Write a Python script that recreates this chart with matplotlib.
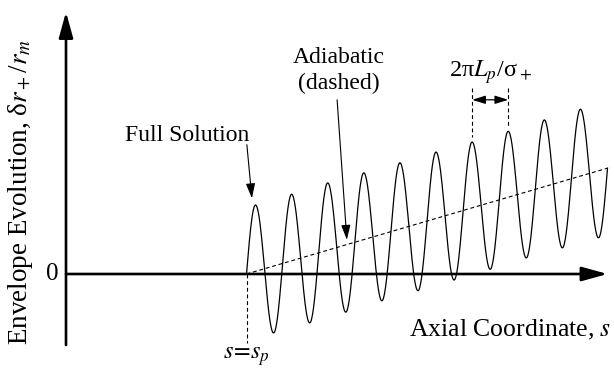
import numpy as np
import matplotlib
matplotlib.use("Agg")
import matplotlib.pyplot as plt

plt.rcParams['font.family'] = ['Liberation Serif', 'DejaVu Serif']
plt.rcParams['mathtext.fontset'] = 'stix'

# ---- data ----
s_p = 5.0
s_end = 15.0
adiabatic_s = [5.0, 15.0]
adiabatic_y = [0.0, 1.58]
peak_s = [5.25, 6.25, 7.25, 8.25, 9.25, 10.25, 11.25, 12.25, 13.25, 14.25]
peak_y = [1.03, 1.19, 1.36, 1.51, 1.66, 1.82, 1.97, 2.13, 2.30, 2.46]
trough_s = [5.75, 6.75, 7.75, 8.75, 9.75, 10.75, 11.75, 12.75, 13.75, 14.75]
trough_y = [-0.88, -0.73, -0.57, -0.40, -0.25, -0.09, 0.07, 0.24, 0.39, 0.54]
period_marks = [11.25, 12.25]
x_axis_end = 15.0
y_axis_range = [-1.06, 3.91]

# ---- build full-solution curve through extrema (sinusoidal segments) ----
ext_s = [s_p]
ext_y = [adiabatic_y[0]]
for ps, py, ts, ty in zip(peak_s, peak_y, trough_s, trough_y):
    ext_s += [ps, ts]
    ext_y += [py, ty]
ext_s.append(s_end)
ext_y.append(adiabatic_y[1])

xs, ys = [], []
n = len(ext_s)
for i in range(n - 1):
    t = np.linspace(0, 1, 40)
    s0, s1 = ext_s[i], ext_s[i + 1]
    y0, y1 = ext_y[i], ext_y[i + 1]
    if i == 0:
        shape = np.sin(np.pi / 2 * t)
    elif i == n - 2:
        shape = 1 - np.cos(np.pi / 2 * t)
    else:
        shape = (1 - np.cos(np.pi * t)) / 2
    xs.append(s0 + (s1 - s0) * t)
    ys.append(y0 + (y1 - y0) * shape)
xs = np.concatenate(xs)
ys = np.concatenate(ys)

# ---- figure ----
fig = plt.figure(figsize=(6.14, 3.81), dpi=100)
ax = fig.add_axes([0, 0, 1, 1])
ax.set_xlim(-66 / 36.1, 548 / 36.1)
ax.set_ylim(-107 / 67, 274 / 67)
ax.axis('off')

# axes with arrows
axis_arrow = dict(arrowstyle='-|>,head_length=1.3,head_width=0.36',
                  mutation_scale=12, lw=1.9, color='black',
                  shrinkA=0, shrinkB=0)
ax.annotate('', xy=(x_axis_end, 0), xytext=(0, 0), arrowprops=axis_arrow)
ax.annotate('', xy=(0, y_axis_range[1]), xytext=(0, y_axis_range[0]),
            arrowprops=axis_arrow)

# curves
ax.plot(xs, ys, color='black', lw=0.9)
ax.plot(adiabatic_s, adiabatic_y, color='black', lw=0.8,
        linestyle=(0, (3.5, 2.5)))

# s = s_p marker
ax.plot([s_p, s_p], [0, -1.03], color='black', lw=0.8,
        linestyle=(0, (3.5, 2.5)))
ax.text(s_p, -1.23, r'$s\!=\!s_p$', ha='center', va='center', fontsize=17.5)

# period markers
for s in period_marks:
    idx = peak_s.index(s)
    ax.plot([s, s], [2.78, peak_y[idx] + 0.07], color='black', lw=0.8,
            linestyle=(0, (3.5, 2.5)))
ax.annotate('', xy=(period_marks[1], 2.60), xytext=(period_marks[0], 2.60),
            arrowprops=dict(arrowstyle='<|-|>,head_length=0.8,head_width=0.25',
                            mutation_scale=10, lw=0.9, color='black',
                            shrinkA=0, shrinkB=0))
ax.text(11.75, 3.02, '2π$L_p$/σ$_+$', ha='center', va='center',
        fontsize=17.5)

# labels
ax.text(-0.39, 0.0, '0', ha='center', va='center', fontsize=18)
ax.text(-1.27, 1.22, 'Envelope Evolution, δ$r_+$/$r_m$', rotation=90,
        ha='center', va='center', fontsize=19.5)
ax.text(15.12, -0.84, r'Axial Coordinate, $s$', ha='right', va='center',
        fontsize=18.5)

# annotations
small_arrow = dict(arrowstyle='-|>,head_length=0.9,head_width=0.28',
                   mutation_scale=10, lw=0.8, color='black',
                   shrinkA=0, shrinkB=0)
ax.text(3.35, 2.06, 'Full Solution', ha='center', va='center', fontsize=17)
ax.annotate('', xy=(5.15, 1.13), xytext=(5.01, 1.93), arrowprops=small_arrow)
ax.text(7.56, 3.03, 'Adiabatic\n(dashed)', ha='center', va='center',
        fontsize=17, linespacing=1.3)
ax.annotate('', xy=(7.78, 0.51), xytext=(7.51, 2.60), arrowprops=small_arrow)

fig.savefig('out.png', dpi=100)
